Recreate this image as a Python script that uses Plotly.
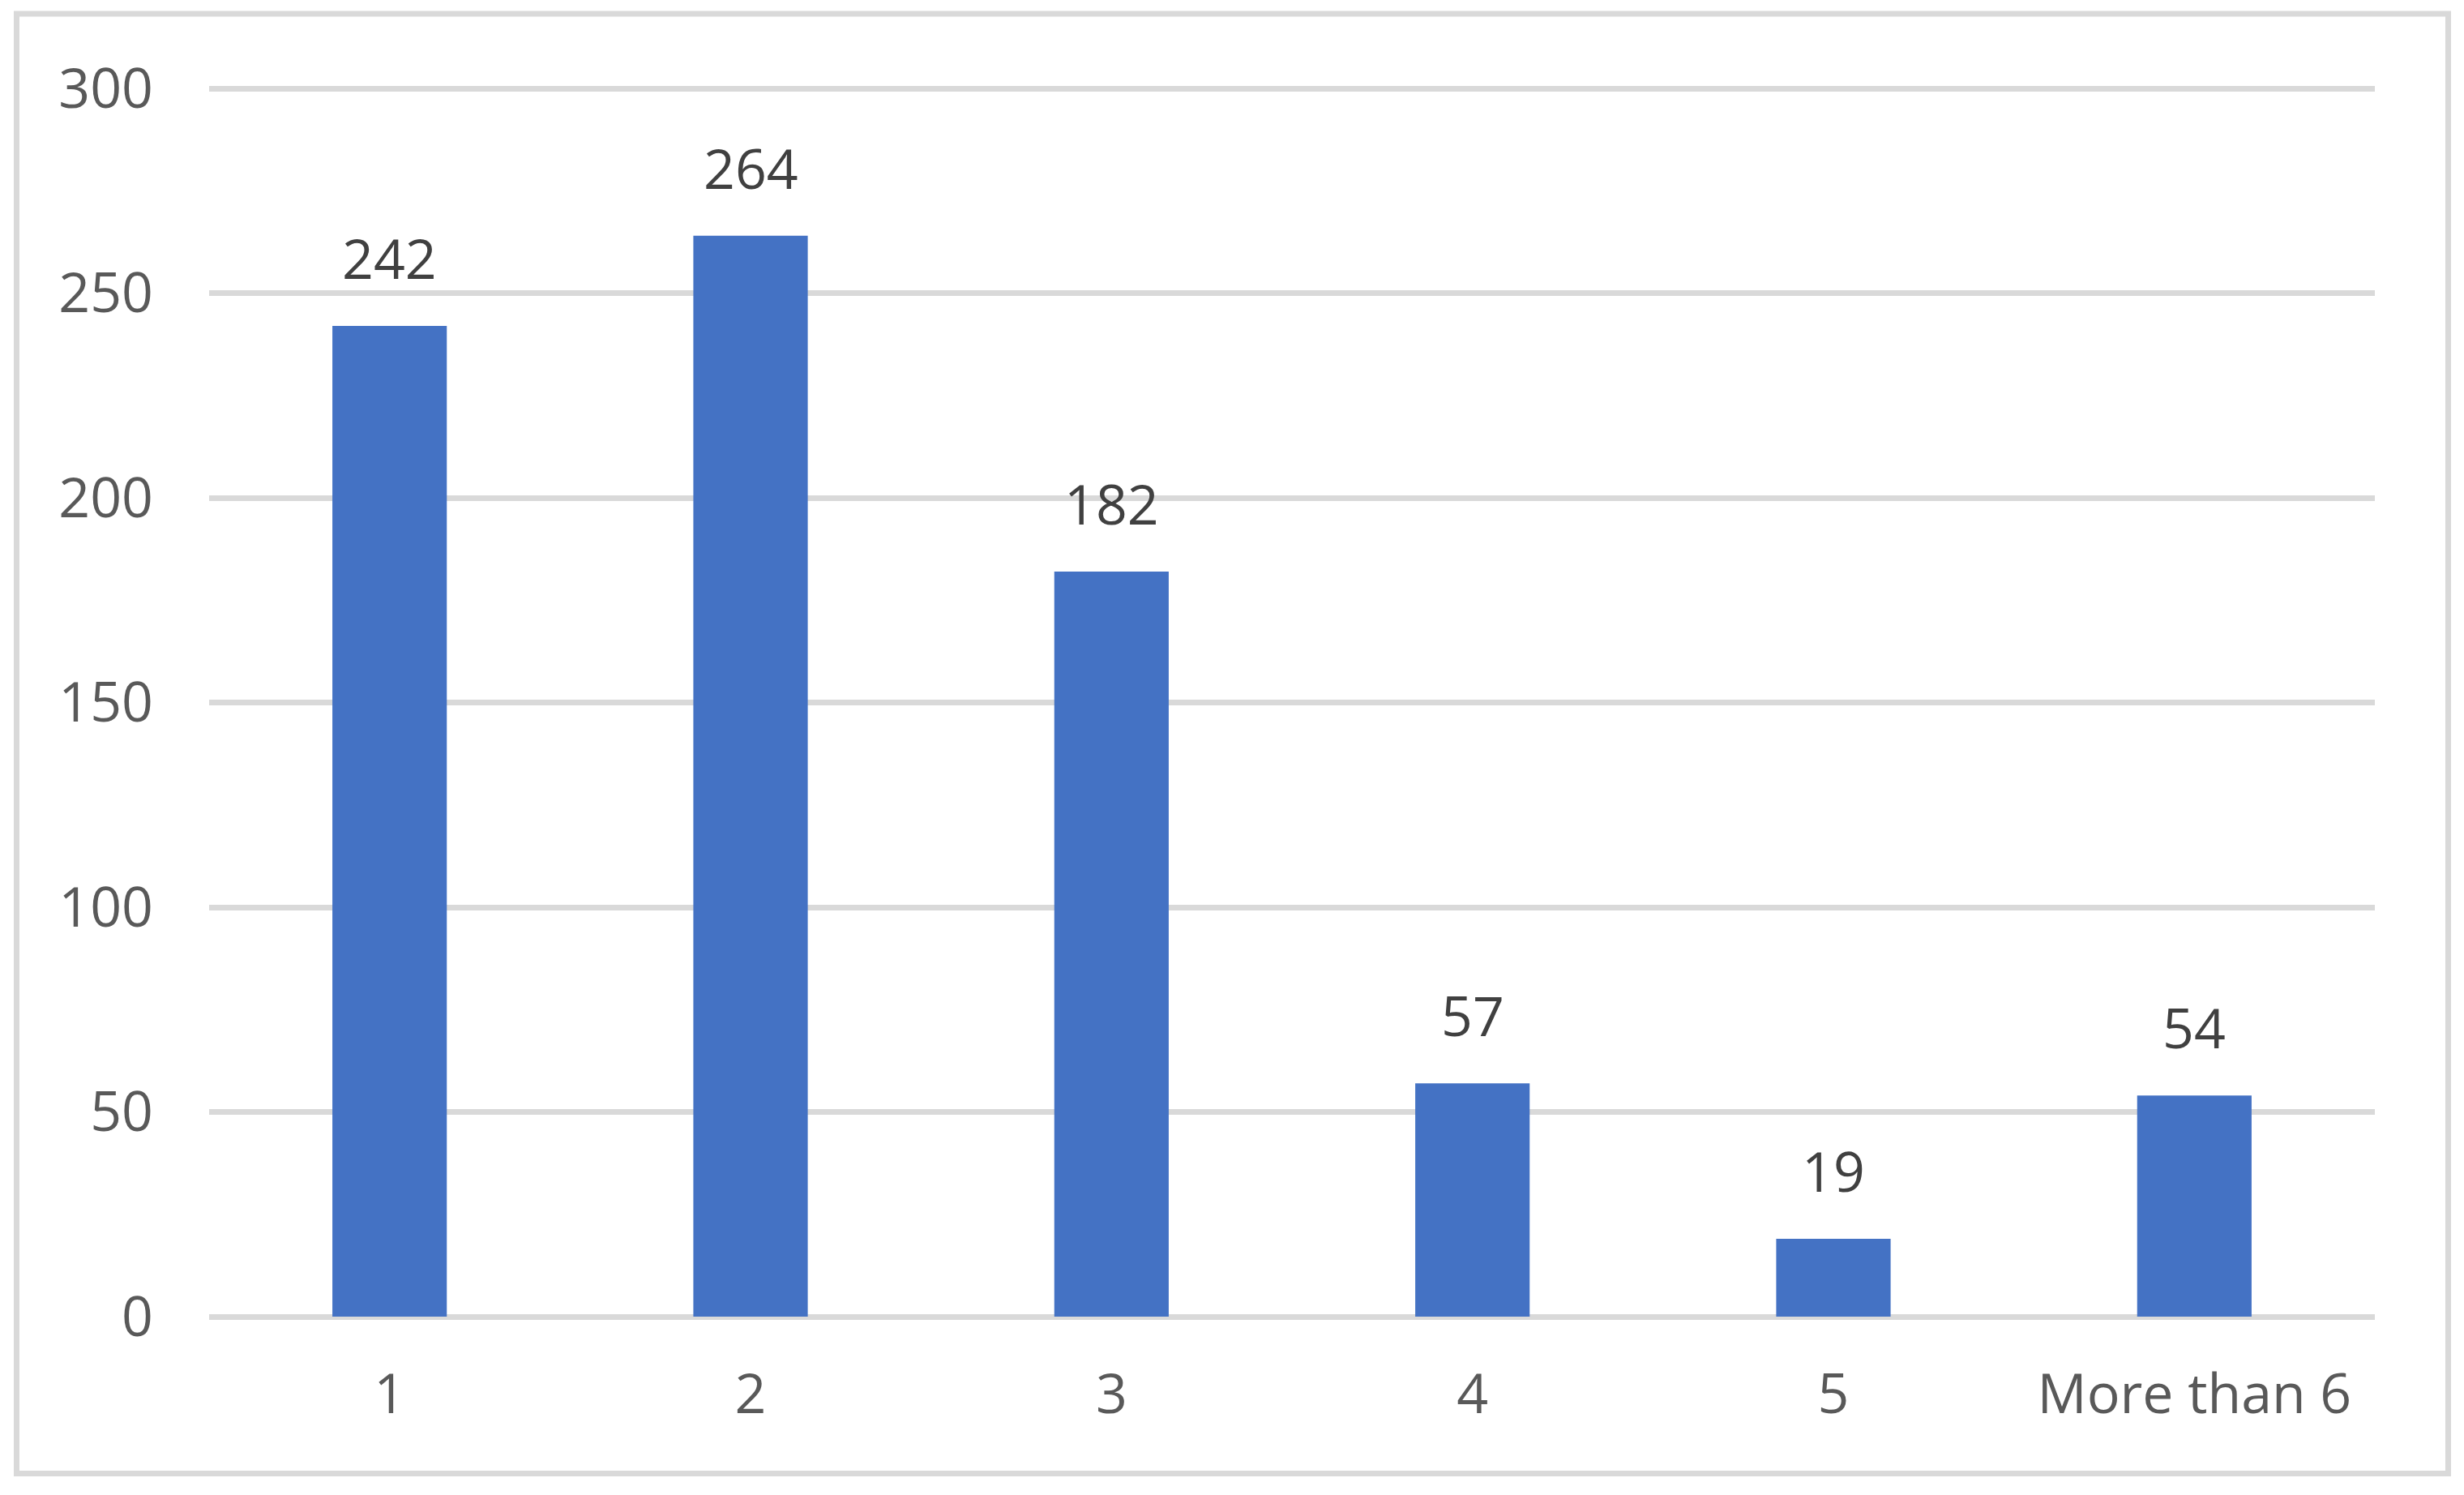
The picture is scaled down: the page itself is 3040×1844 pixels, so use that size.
import plotly.graph_objects as go

# données
categories = ["1", "2", "3", "4", "5", "More than 6"]
valeurs = [242, 264, 182, 57, 19, 54]
graduations_y = [0, 50, 100, 150, 200, 250, 300]

BLEU = "#4472C4"
GRIS_GRILLE = "#D9D9D9"
GRIS_TEXTE = "#595959"
GRIS_ETIQ = "#404040"
POLICE = "Open Sans"

# la page html ajoute une marge de 8 px autour de la figure
DECALAGE = 8
W, H = 3040 - DECALAGE, 1844 - DECALAGE
Y_MAX = 301  # un peu au-dessus de 300 pour garder la ligne de grille du haut

# zone de tracé visée (pixels de la figure)
x_gauche, x_droite = 258 - DECALAGE, 2930 - DECALAGE
y_300, y_0 = 109.5 - DECALAGE, 1624.5 - DECALAGE
hauteur = (y_0 - y_300) * Y_MAX / 300
MARGES = dict(l=x_gauche, r=W - x_droite, t=y_0 - hauteur, b=H - y_0, pad=0)

fig = go.Figure()
fig.add_trace(go.Bar(
    x=categories, y=valeurs,
    marker=dict(color=BLEU, line=dict(width=0)),
    width=0.317,
    showlegend=False,
    hoverinfo="skip",
))

# étiquettes de valeur au-dessus des barres
for i, v in enumerate(valeurs):
    fig.add_annotation(
        x=i, y=v, text=str(v), showarrow=False,
        xanchor="center", yanchor="bottom", yshift=36,
        font=dict(family=POLICE, size=68, color=GRIS_ETIQ),
    )


# cadre gris autour du graphique (pixels -> coordonnées papier)
pw = W - MARGES["l"] - MARGES["r"]
ph = H - MARGES["t"] - MARGES["b"]


def px_x(p):
    return (p - DECALAGE - MARGES["l"]) / pw


def px_y(p):
    return (H - (p - DECALAGE) - MARGES["b"]) / ph


fig.add_shape(
    type="rect", xref="paper", yref="paper",
    x0=px_x(20.5), x1=px_x(3020.5), y0=px_y(1818), y1=px_y(17.5),
    line=dict(color=GRIS_GRILLE, width=7), fillcolor="rgba(0,0,0,0)",
    layer="below",
)

fig.update_layout(
    width=W, height=H,
    margin=MARGES,
    paper_bgcolor="white", plot_bgcolor="white",
    font=dict(family=POLICE, size=68, color=GRIS_TEXTE),
    xaxis=dict(
        type="category",
        showgrid=False, showline=False, zeroline=False,
        ticks="", ticklabelstandoff=50,
        tickfont=dict(family=POLICE, size=68, color=GRIS_TEXTE),
    ),
    yaxis=dict(
        range=[0, Y_MAX], tickvals=graduations_y,
        showgrid=True, gridcolor=GRIS_GRILLE, gridwidth=7,
        zeroline=True, zerolinecolor=GRIS_GRILLE, zerolinewidth=7,
        showline=False, ticks="", ticklabelstandoff=68,
        tickfont=dict(family=POLICE, size=68, color=GRIS_TEXTE),
    ),
)

fig.write_html("out.html")
